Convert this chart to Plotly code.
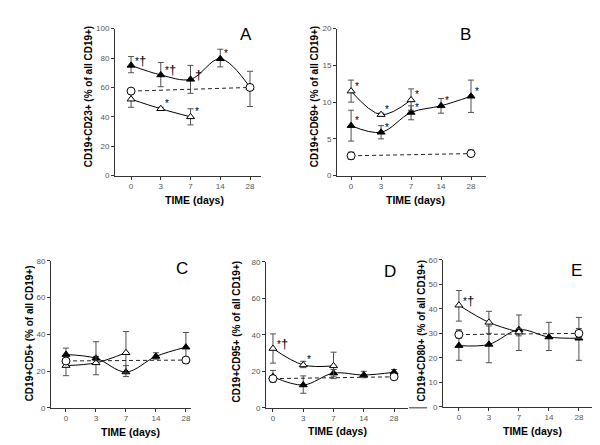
import plotly.graph_objects as go

W, H = 600, 445
FONT = "Liberation Sans, Arial, sans-serif"

# ---------------- data ----------------
day_labels = ["0", "3", "7", "14", "28"]
x_all = [0, 1, 2, 3, 4]
x_early = [0, 1, 2]
x_ends = [0, 4]

# Panel A: CD19+CD23+
a_filled = [75, 68.5, 65.5, 79.5, 60]
a_filled_hi = [81, 77, 75, 86, 71]
a_filled_lo = [70, 60.5, 56, 74, 47]
a_open = [52, 45.5, 40]
a_open_hi = [56, 46.5, 45.5]
a_open_lo = [46.5, 44.5, 34.5]
a_circ = [57.5, 60]
a_circ_hi = [58.5, 61]
a_circ_lo = [56.5, 59]

# Panel B: CD19+CD69+
b_filled = [6.8, 5.9, 8.6, 9.5, 10.8]
b_filled_hi = [8.9, 6.8, 9.5, 10.5, 13]
b_filled_lo = [4.7, 5.0, 7.6, 8.5, 8.6]
b_open = [11.5, 8.3, 10.3]
b_open_hi = [13, 8.5, 11.8]
b_open_lo = [10, 8.1, 8.9]
b_circ = [2.7, 3.0]
b_circ_hi = [3.2, 3.5]
b_circ_lo = [2.2, 2.6]

# Panel C: CD19+CD5+
c_filled = [29, 27, 19.5, 28, 33]
c_filled_hi = [32.5, 28, 23, 30, 41]
c_filled_lo = [25.5, 26, 17, 26.5, 26]
c_open = [23, 24.5, 30]
c_open_hi = [26, 36, 41.5]
c_open_lo = [17.5, 18, 19]
c_circ = [25.5, 26]
c_circ_hi = [27, 27.5]
c_circ_lo = [24, 24.5]

# Panel D: CD19+CD95+
d_filled = [17, 12.5, 19, 18, 19.5]
d_filled_hi = [20.5, 17.5, 21, 20, 21]
d_filled_lo = [14, 8, 17, 16.5, 18]
d_open = [32.5, 23.5, 23]
d_open_hi = [40.5, 25.5, 30.5]
d_open_lo = [24.5, 22, 16]
d_circ = [16, 17]
d_circ_hi = [17.5, 18.5]
d_circ_lo = [14.5, 15.5]

# Panel E: CD19+CD80+
e_filled = [25, 25.5, 31.5, 28.5, 28]
e_filled_hi = [31, 33, 37.5, 34.5, 36.5]
e_filled_lo = [19, 18, 23, 23, 19]
e_open = [41.5, 34.5, 30.5]
e_open_hi = [47.5, 39, 32]
e_open_lo = [35, 30, 29]
e_circ = [29.5, 30]
e_circ_hi = [31.5, 32]
e_circ_lo = [28, 28]

y_titles = ["CD19+CD23+ (% of all CD19+)", "CD19+CD69+ (% of all CD19+)",
            "CD19+CD5+ (% of all CD19+)", "CD19+CD95+ (% of all CD19+)",
            "CD19+CD80+ (% of all CD19+)"]
panel_letters = ["A", "B", "C", "D", "E"]
y_ranges = [(0, 100), (0, 20), (0, 80), (0, 80), (0, 60)]
y_dticks = [20, 5, 20, 20, 10]
x_title = "TIME (days)"

# ---------------- layout geometry (pixels) ----------------
boxes = [  # x0, x1, ytop, ybottom
    (107, 253, 17, 167),
    (329, 478, 17, 167),
    (43, 183, 254, 404),
    (258, 400, 255, 404),
    (435, 588, 253, 403),
]
x_ranges = [(-0.54, 4.37), (-0.47, 4.5), (-0.5, 4.17), (-0.23, 4.46), (-0.53, 4.57)]
ytitle_pos = [(80, 87), (306, 87), (21, 328), (228, 327), (413, 326)]
xtitle_pos = [(186, 192), (407, 192), (122, 429), (329, 428), (524, 428)]
letter_pos = [(238, 23), (457, 23), (174, 262), (382, 265), (568, 264)]


def px(x):
    return x / W


def py(y):
    return 1 - y / H


fig = go.Figure()


def err(vals, hi, lo):
    return dict(type="data", symmetric=False,
                array=[h - v for h, v in zip(hi, vals)],
                arrayminus=[v - l for l, v in zip(lo, vals)],
                color="#505050", thickness=1, width=3)


panels = [
    (a_filled, a_filled_hi, a_filled_lo, a_open, a_open_hi, a_open_lo, a_circ, a_circ_hi, a_circ_lo),
    (b_filled, b_filled_hi, b_filled_lo, b_open, b_open_hi, b_open_lo, b_circ, b_circ_hi, b_circ_lo),
    (c_filled, c_filled_hi, c_filled_lo, c_open, c_open_hi, c_open_lo, c_circ, c_circ_hi, c_circ_lo),
    (d_filled, d_filled_hi, d_filled_lo, d_open, d_open_hi, d_open_lo, d_circ, d_circ_hi, d_circ_lo),
    (e_filled, e_filled_hi, e_filled_lo, e_open, e_open_hi, e_open_lo, e_circ, e_circ_hi, e_circ_lo),
]

annotations = []
for i, p in enumerate(panels):
    fv, fh, fl, ov, oh, ol, cv, ch, cl = p
    xa = "x" if i == 0 else f"x{i+1}"
    ya = "y" if i == 0 else f"y{i+1}"
    fig.add_trace(go.Scatter(x=x_all, y=fv, xaxis=xa, yaxis=ya, mode="lines+markers",
                             line=dict(color="black", width=1, shape="spline", smoothing=1),
                             marker=dict(symbol="triangle-up", size=7, color="black",
                                         line=dict(color="black", width=1)),
                             error_y=err(fv, fh, fl), showlegend=False))
    fig.add_trace(go.Scatter(x=x_early, y=ov, xaxis=xa, yaxis=ya, mode="lines+markers",
                             line=dict(color="black", width=1, shape="spline", smoothing=1),
                             marker=dict(symbol="triangle-up", size=7, color="white",
                                         line=dict(color="black", width=1)),
                             error_y=err(ov, oh, ol), showlegend=False))
    fig.add_trace(go.Scatter(x=x_ends, y=cv, xaxis=xa, yaxis=ya, mode="lines+markers",
                             line=dict(color="#222", width=1, dash="4px,3px"),
                             marker=dict(symbol="circle", size=8, color="white",
                                         line=dict(color="black", width=1)),
                             error_y=err(cv, ch, cl), showlegend=False))

    x0, x1, yt, yb = boxes[i]
    axis_common = dict(showline=True, linecolor="#333", linewidth=1, ticks="outside",
                       ticklen=3, tickcolor="#333", tickwidth=1, showgrid=False,
                       zeroline=False, tickfont=dict(family=FONT, size=8, color="#555"))
    fig.layout[("xaxis" if i == 0 else f"xaxis{i+1}")] = dict(
        domain=[px(x0), px(x1)], range=list(x_ranges[i]), anchor=ya,
        tickvals=x_all, ticktext=day_labels, **axis_common)
    fig.layout[("yaxis" if i == 0 else f"yaxis{i+1}")] = dict(
        domain=[py(yb), py(yt)], range=list(y_ranges[i]), anchor=xa,
        dtick=y_dticks[i], tick0=0, **axis_common)

    tx, ty = ytitle_pos[i]
    annotations.append(dict(x=px(tx), y=py(ty), xref="paper", yref="paper", text=f"<b>{y_titles[i]}</b>",
                            textangle=-90, showarrow=False, font=dict(family=FONT, size=10, color="black"),
                            xanchor="center", yanchor="middle"))
    tx, ty = xtitle_pos[i]
    annotations.append(dict(x=px(tx), y=py(ty), xref="paper", yref="paper", text=f"<b>{x_title}</b>",
                            showarrow=False, font=dict(family=FONT, size=10.5, color="black"),
                            xanchor="center", yanchor="middle"))
    tx, ty = letter_pos[i]
    annotations.append(dict(x=px(tx), y=py(ty), xref="paper", yref="paper", text=panel_letters[i],
                            showarrow=False, font=dict(family=FONT, size=17, color="black"),
                            xanchor="center", yanchor="middle"))

# significance marks: (panel index, x index, y value, text)
marks = [
    (0, 0, a_filled[0], "*†"), (0, 1, a_filled[1], "*†"), (0, 2, a_filled[2], "†"),
    (0, 3, a_filled[3], "*"), (0, 1, a_open[1], "*"), (0, 2, a_open[2], "*"),
    (1, 0, b_open[0], "*"), (1, 1, b_open[1], "*"), (1, 2, b_open[2], "*"),
    (1, 0, b_filled[0], "*"), (1, 1, b_filled[1], "*"), (1, 2, b_filled[2], "*"),
    (1, 3, b_filled[3], "*"), (1, 4, b_filled[4], "*"),
    (3, 0, d_open[0], "*†"), (3, 1, d_open[1], "*"),
    (4, 0, e_open[0], "*†"),
]
for pi, xi, yv, t in marks:
    xa = "x" if pi == 0 else f"x{pi+1}"
    ya = "y" if pi == 0 else f"y{pi+1}"
    html = t.replace("†", "<span style='font-size:13px'>†</span>")
    annotations.append(dict(x=xi, y=yv, xref=xa, yref=ya, text=html, showarrow=False,
                            xanchor="left", yanchor="middle", xshift=2, yshift=5,
                            font=dict(family=FONT, size=10, color="black")))

fig.update_layout(
    width=W, height=H, margin=dict(l=0, r=0, t=0, b=0),
    paper_bgcolor="white", plot_bgcolor="white",
    annotations=annotations,
    shapes=[dict(type="line", xref="paper", yref="paper", x0=px(401), x1=px(419),
                 y0=py(404), y1=py(404), line=dict(color="#333", width=1))],
)

fig.write_html("out.html")
